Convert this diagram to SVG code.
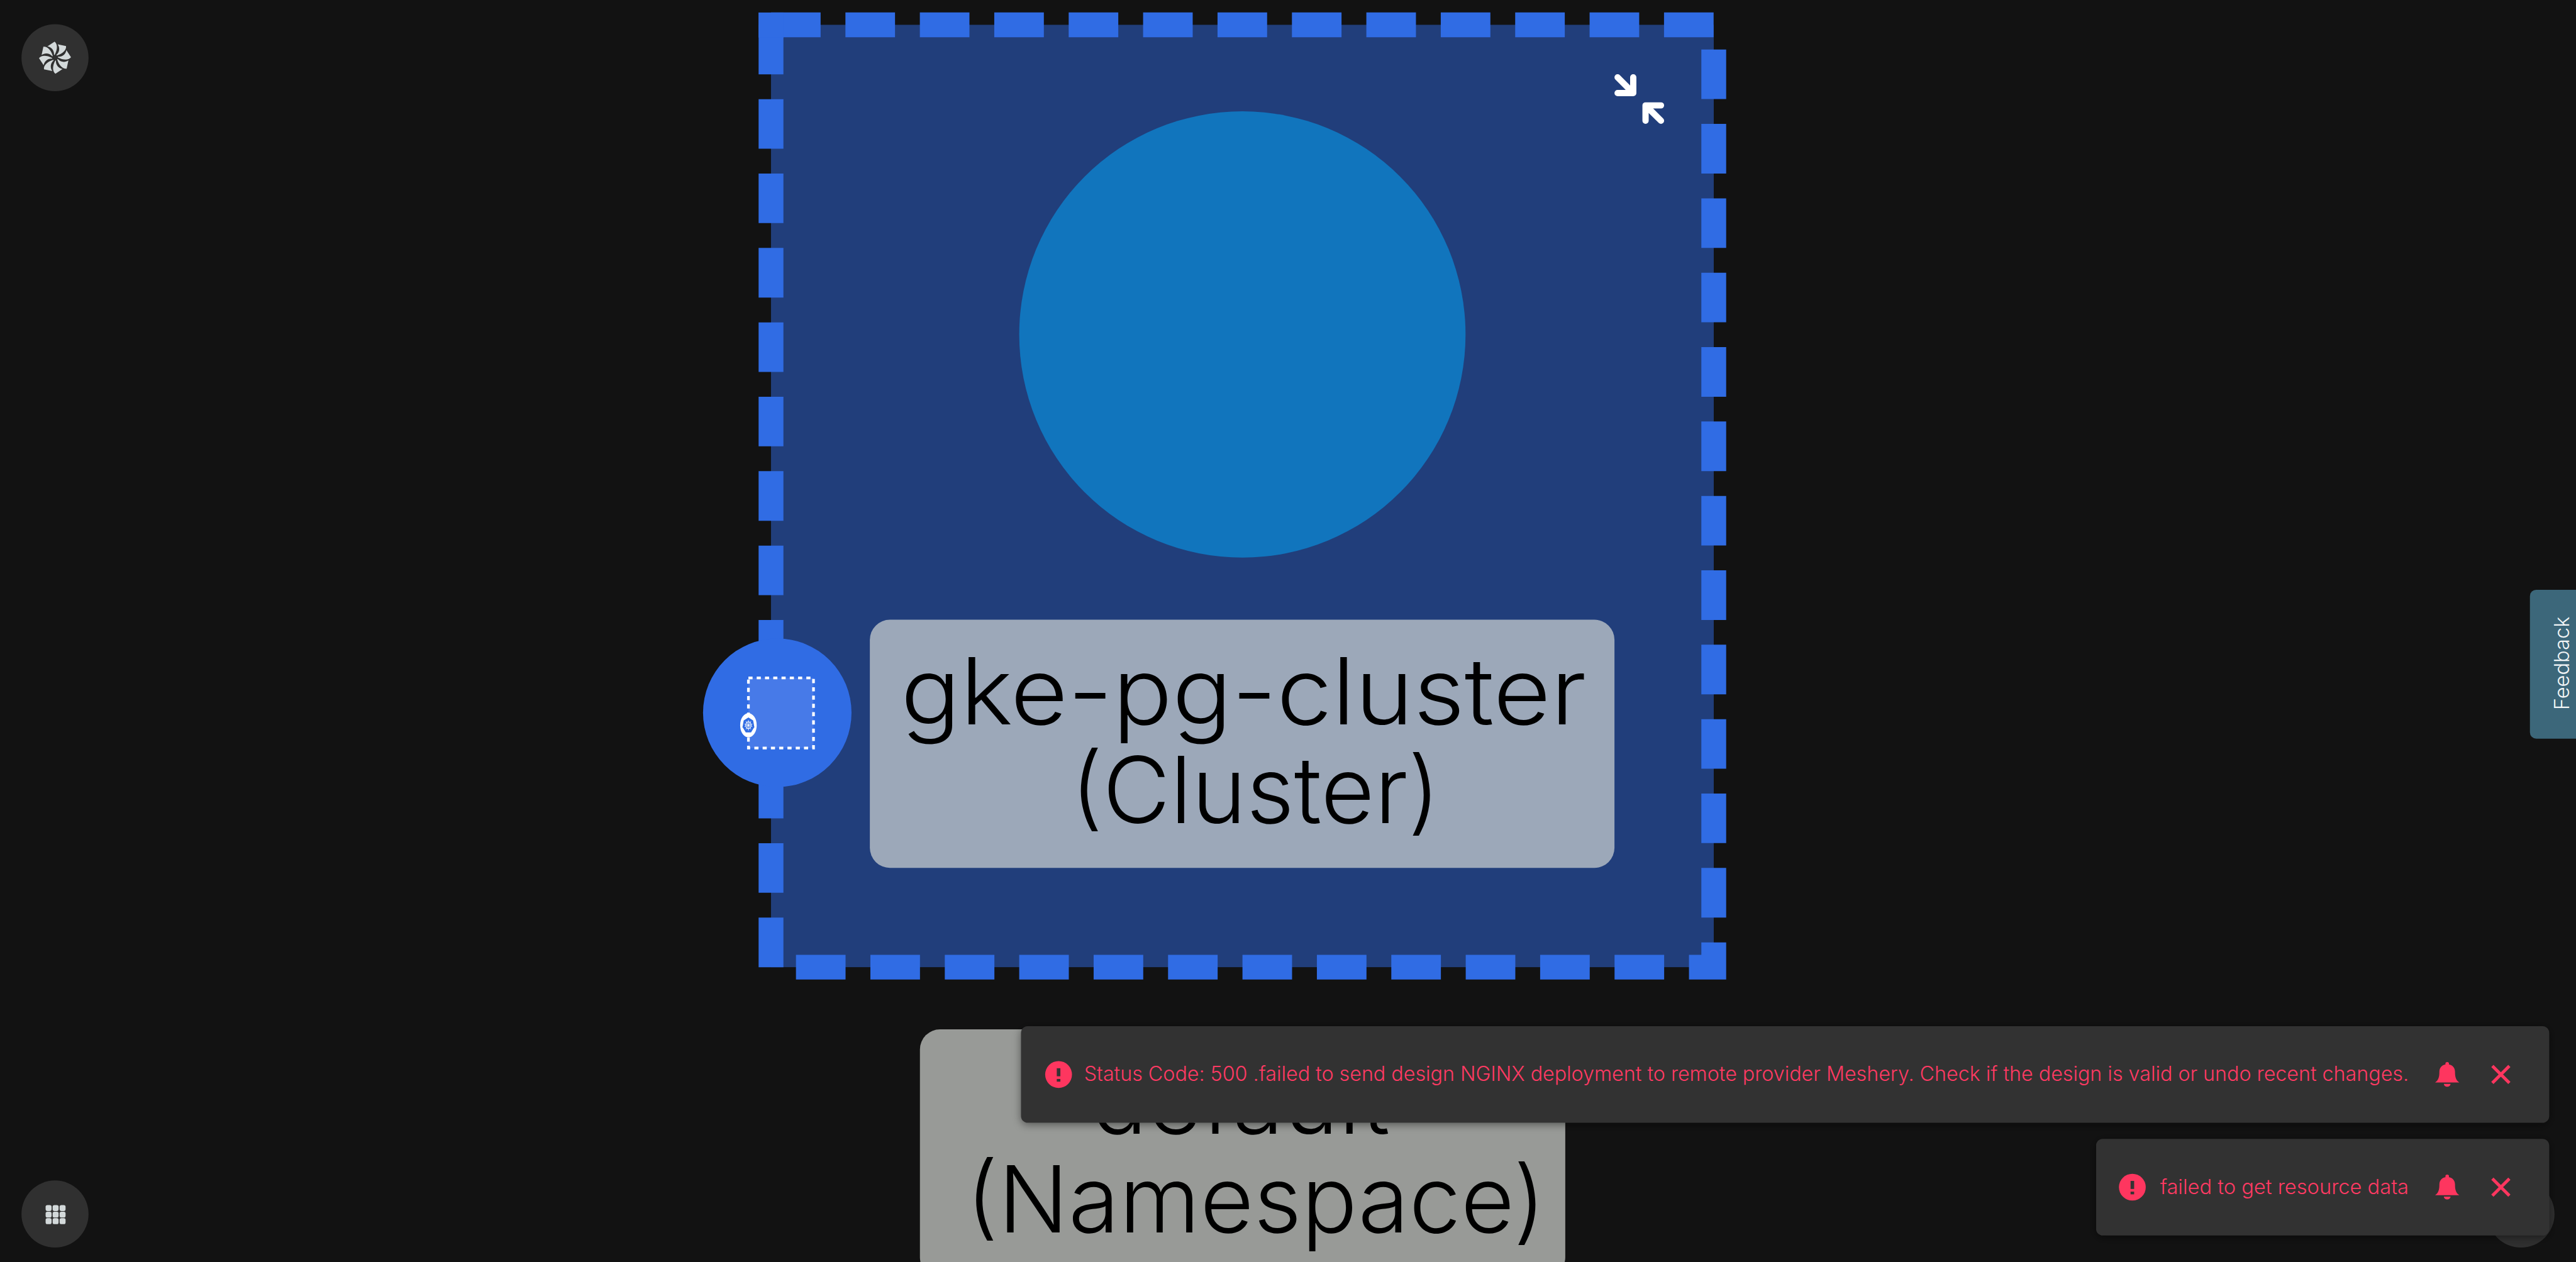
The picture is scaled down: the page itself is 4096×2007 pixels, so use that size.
<svg xmlns="http://www.w3.org/2000/svg" width="4096" height="2007" viewBox="0 0 4096 2007">
<style>
.lbl{font-family:"Inter","Liberation Sans",sans-serif;font-weight:300;fill:#000;font-size:206px}
.err{font-family:"Inter","Liberation Sans",sans-serif;font-weight:300;fill:#ff3a63;font-size:45px}
.fab{fill:#303030}
.toast{fill:#333;filter:url(#sh)}
.ic{fill:#d3d9da}
.edge{fill:none;stroke:#306ce4;stroke-width:55.5;stroke-dasharray:110.9 55.5}
</style>
<defs>
<filter id="sh" x="-5%" y="-30%" width="110%" height="160%"><feDropShadow dx="0" dy="4" stdDeviation="10" flood-color="#000" flood-opacity="0.45"/></filter>
<path id="blade" d="M3 -6C11 -13 11 -23 6 -30L24.6 -26C26 -18 18 -9 4 -5Z"/>
<g id="bell"><circle cx="0" cy="-24" r="4"/><path d="M-27 18C-18 12-17.500 2-17.500-6C-17.500-18-8-23 0-23C8-23 17.500-18 17.500-6C17.500 2 18 12 27 18ZM-7.500 21H7.500A7.500 6.500 0 0 1-7.500 21Z"/></g>
<g id="err"><circle r="30" fill="#fe365f"/><rect x="-4" y="-14" width="8" height="18" fill="#333"/><rect x="-4" y="10" width="8" height="6" fill="#333"/></g>
<path id="close" d="M-19-19L19 19M19-19L-19 19" fill="none" stroke="#fe365f" stroke-width="7"/>
</defs>
<g transform="scale(0.71111)">
<rect x="0" y="0" width="5760" height="2823" fill="#121212"/>

<g id="logo-button">
<circle class="fab" cx="123" cy="129" r="75"/>
<g class="ic" transform="translate(123 129)">
<use href="#blade"/><use href="#blade" transform="rotate(45)"/><use href="#blade" transform="rotate(90)"/><use href="#blade" transform="rotate(135)"/><use href="#blade" transform="rotate(180)"/><use href="#blade" transform="rotate(225)"/><use href="#blade" transform="rotate(270)"/><use href="#blade" transform="rotate(315)"/>
<circle r="4" class="fab"/>
</g>
</g>

<g id="cluster">
<rect x="1724" y="55.500" width="2108" height="2107.500" fill="#213e7b"/>
<path class="edge" d="M1724 55.500H3832V2163H1779"/>
<path class="edge" d="M1724 2163V55.500"/>
<rect x="1696" y="28" width="56" height="56" fill="#306ce4"/>
<circle cx="2778" cy="748" r="499" fill="#1175bd"/>
<path d="M3617 173L3652 208M3652 173V208H3617M3714 270L3679.500 235.700M3714 235.700H3679.500V270" fill="none" stroke="#fff" stroke-width="14" stroke-linecap="round" stroke-linejoin="round"/>
<rect x="1945" y="1386" width="1665" height="555" rx="45" fill="#9ca8b9"/>
<text class="lbl" x="2014" y="1620" textLength="1533" lengthAdjust="spacingAndGlyphs">gke-pg-cluster</text>
<text class="lbl" x="2394" y="1841" textLength="826" lengthAdjust="spacingAndGlyphs">(Cluster)</text>
</g>

<g id="cluster-handle">
<circle cx="1738" cy="1594" r="166" fill="#306ce4"/>
<path d="M1673.500 1516H1819V1673H1673.500V1516" fill="#477ae8" stroke="#fff" stroke-width="6" stroke-dasharray="9.250 9.250"/>
<ellipse cx="1673.500" cy="1622" rx="18.500" ry="27" fill="#fff"/>
<g transform="translate(1673.500 1622) scale(1 1.3)">
<path d="M0-13.500L10.550-8.400L13.200 3L5.900 12.200H-5.900L-13.200 3L-10.550-8.400Z" fill="#306ce4"/>
<circle r="6" fill="none" stroke="#fff" stroke-width="1.300"/>
<path d="M0-9V9M-8.800-2L8.800 2M-8.800 2L8.800-2M-5.600-7L5.600 7M5.600-7L-5.600 7" stroke="#fff" stroke-width="1"/>
</g>
</g>

<g id="namespace">
<rect x="2057" y="2302" width="1443" height="555" rx="45" fill="#989a97"/>
<text class="lbl" x="2440" y="2535" textLength="668" lengthAdjust="spacingAndGlyphs">default</text>
<text class="lbl" x="2160" y="2756" textLength="1296" lengthAdjust="spacingAndGlyphs">(Namespace)</text>
</g>

<g id="grid-button">
<circle class="fab" cx="123" cy="2715" r="75"/>
<g class="ic">
<rect x="102" y="2695" width="13.300" height="13.300" rx="4"/><rect x="117.700" y="2695" width="13.300" height="13.300" rx="4"/><rect x="133.300" y="2695" width="13.300" height="13.300" rx="4"/>
<rect x="102" y="2709.700" width="13.300" height="13.300" rx="4"/><rect x="117.700" y="2709.700" width="13.300" height="13.300" rx="4"/><rect x="133.300" y="2709.700" width="13.300" height="13.300" rx="4"/>
<rect x="102" y="2724.300" width="13.300" height="13.300" rx="4"/><rect x="117.700" y="2724.300" width="13.300" height="13.300" rx="4"/><rect x="133.300" y="2724.300" width="13.300" height="13.300" rx="4"/>
</g>
</g>

<g id="chat-button"><circle class="fab" cx="5637" cy="2715" r="75"/></g>

<g id="feedback">
<rect x="5657" y="1319" width="130" height="333" rx="14" fill="#3c677a"/>
<text x="5744" y="1588" transform="rotate(-90 5744 1588)" textLength="209" lengthAdjust="spacingAndGlyphs" style="font-family:'Inter','Liberation Sans',sans-serif;font-weight:300;font-size:46px;fill:#f2f5f6">Feedback</text>
</g>

<g id="toast-design">
<rect class="toast" x="2283" y="2295" width="3417" height="216" rx="15"/>
<use href="#err" x="2367" y="2403"/>
<text class="err" x="2424" y="2418" textLength="2962" lengthAdjust="spacingAndGlyphs">Status Code: 500 .failed to send design NGINX deployment to remote provider Meshery. Check if the design is valid or undo recent changes.</text>
<use href="#bell" x="5472" y="2403" fill="#fe365f"/>
<use href="#close" x="5592" y="2403"/>
</g>

<g id="toast-resource">
<rect class="toast" x="4687" y="2547" width="1013" height="216" rx="15"/>
<use href="#err" x="4768" y="2655"/>
<text class="err" x="4830" y="2670" textLength="556" lengthAdjust="spacingAndGlyphs">failed to get resource data</text>
<use href="#bell" x="5472" y="2655" fill="#fe365f"/>
<use href="#close" x="5592" y="2655"/>
</g>
</g>
</svg>
